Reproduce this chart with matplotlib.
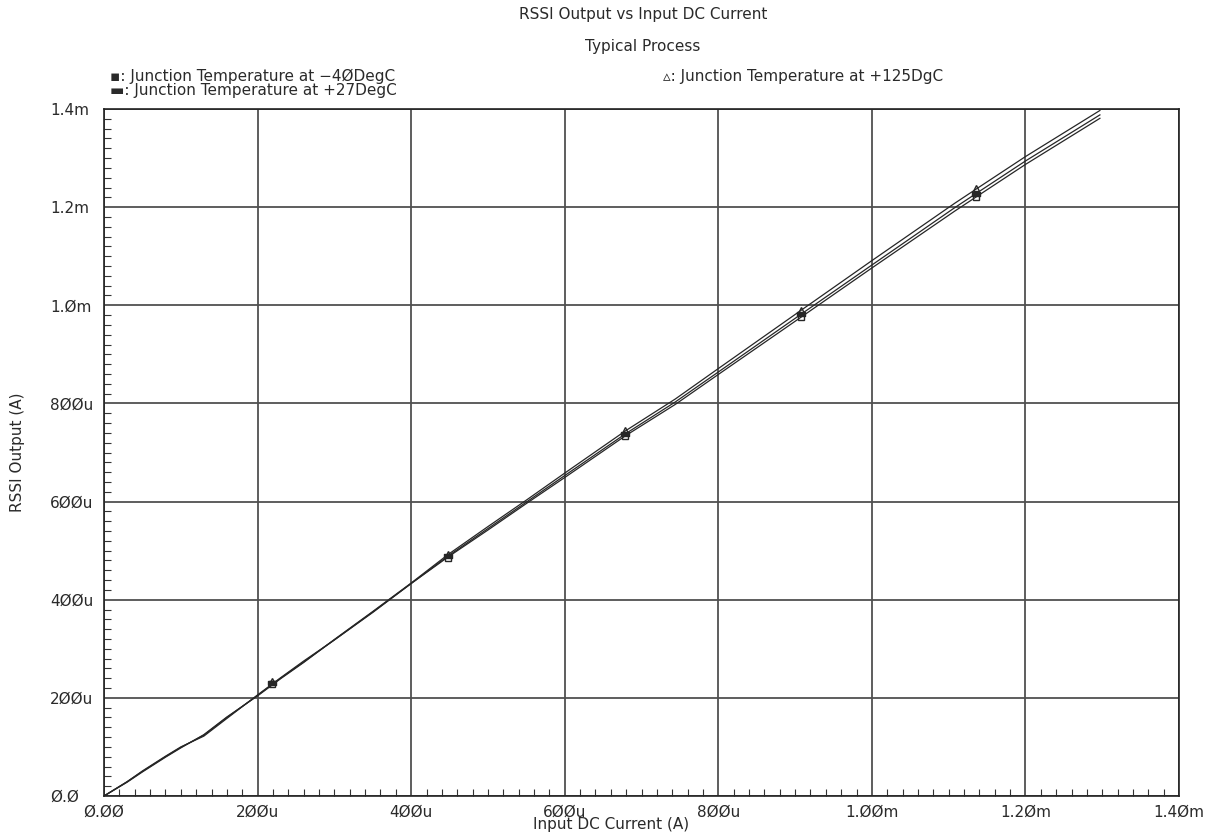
import matplotlib
matplotlib.use("Agg")
import matplotlib.pyplot as plt
from matplotlib.ticker import MultipleLocator, FixedLocator
import numpy as np

# ---- data (uA) ----
x_uA = [0, 30, 50, 80, 100, 130, 160, 200, 230, 260, 300, 350, 400, 448, 500,
        551, 600, 679, 744, 800, 908, 1000, 1108, 1136, 1200, 1297]
y_p27 = [0, 29, 50, 80, 99, 124, 160, 205, 240, 273, 318, 375, 433, 489, 545,
         600, 653, 738, 803, 864, 982, 1082, 1199, 1228, 1294, 1388]
y_m40 = [0, 29, 51, 81, 100, 122, 158, 206, 241, 275, 318, 374, 433, 487, 542,
         597, 649, 734, 798, 859, 976, 1076, 1192, 1221, 1287, 1381]
y_p125 = [0, 28, 49, 79, 98, 125, 161, 204, 239, 272, 319, 376, 434, 492, 549,
          604, 658, 744, 809, 871, 990, 1091, 1208, 1237, 1303, 1397]

mark_x = [219, 448, 679, 908, 1136]
mark_m40 = [229, 486, 733, 976, 1220]
mark_p27 = [231, 489, 738, 982, 1227]
mark_p125 = [234, 493, 745, 991, 1238]

xtick_vals = [0, 200, 400, 600, 800, 1000, 1200, 1400]
xtick_labels = ["Ø.ØØ", "2ØØu", "4ØØu", "6ØØu", "8ØØu", "1.ØØm", "1.2Øm", "1.4Øm"]
ytick_vals = [0, 200, 400, 600, 800, 1000, 1200, 1400]
ytick_labels = ["Ø.Ø", "2ØØu", "4ØØu", "6ØØu", "8ØØu", "1.Øm", "1.2m", "1.4m"]

title1 = "RSSI Output vs Input DC Current"
title2 = "Typical Process"
leg_m40 = "▪: Junction Temperature at −4ØDegC"
leg_p27 = "▬: Junction Temperature at +27DegC"
leg_p125 = "▵: Junction Temperature at +125DgC"

plt.rcParams['font.family'] = ['DejaVu Sans']
FS = 11
TC = "#2a2a2a"

W, H = 1214, 834
fig = plt.figure(figsize=(W / 100, H / 100), dpi=100)
L, R, T, B = 104, 1179, 109, 796
ax = fig.add_axes([L / W, 1 - B / H, (R - L) / W, (B - T) / H])

u = 1e-6
xs = np.array(x_uA) * u
for ys in (y_m40, y_p27, y_p125):
    ax.plot(xs, np.array(ys) * u, color="#262626", lw=0.9, zorder=3)

mx = np.array(mark_x) * u
rect_marker = [(-1, -0.45), (1, -0.45), (1, 0.45), (-1, 0.45), (-1, -0.45)]
ax.plot(mx, np.array(mark_m40) * u, ls="none", marker="s", ms=4.5,
        mfc="none", mec="#262626", mew=1.0, zorder=4)
ax.plot(mx, np.array(mark_p27) * u, ls="none", marker=rect_marker, ms=6,
        mfc="#262626", mec="#262626", mew=1.0, zorder=4)
ax.plot(mx, np.array(mark_p125) * u, ls="none", marker="^", ms=5,
        mfc="none", mec="#262626", mew=1.0, zorder=4)

ax.set_xlim(0, 1400 * u)
ax.set_ylim(0, 1400 * u)
ax.xaxis.set_major_locator(FixedLocator(np.array(xtick_vals) * u))
ax.yaxis.set_major_locator(FixedLocator(np.array(ytick_vals) * u))
ax.set_xticklabels(xtick_labels, fontsize=FS, color=TC)
ax.set_yticklabels(ytick_labels, fontsize=FS, color=TC, ha="left")
ax.xaxis.set_minor_locator(MultipleLocator(20 * u))
ax.yaxis.set_minor_locator(MultipleLocator(20 * u))
ax.tick_params(axis="both", which="major", length=0)
ax.tick_params(axis="x", which="major", pad=6)
ax.tick_params(axis="y", which="major", pad=39)
ax.tick_params(axis="both", which="minor", direction="in", length=5,
               width=0.8, color="#333333")
ax.grid(True, which="major", color="#505050", lw=1.3)
ax.set_axisbelow(True)
for s in ax.spines.values():
    s.set_color("#222222")
    s.set_linewidth(1.2)

fig.text(643 / W, 1 - 14 / H, title1, ha="center", va="center", fontsize=FS, color=TC)
fig.text(643 / W, 1 - 47 / H, title2, ha="center", va="center", fontsize=FS, color=TC)
fig.text(110 / W, 1 - 76 / H, leg_m40, ha="left", va="center", fontsize=FS, color=TC)
fig.text(110 / W, 1 - 91 / H, leg_p27, ha="left", va="center", fontsize=FS, color=TC)
fig.text(663 / W, 1 - 76 / H, leg_p125, ha="left", va="center", fontsize=FS, color=TC)
fig.text(18 / W, 1 - 452 / H, "RSSI Output (A)", ha="center", va="center",
         rotation=90, fontsize=FS, color=TC)
fig.text(611 / W, 1 - 825 / H, "Input DC Current (A)", ha="center", va="center",
         fontsize=FS, color=TC)

fig.savefig("out.png", dpi=100)
